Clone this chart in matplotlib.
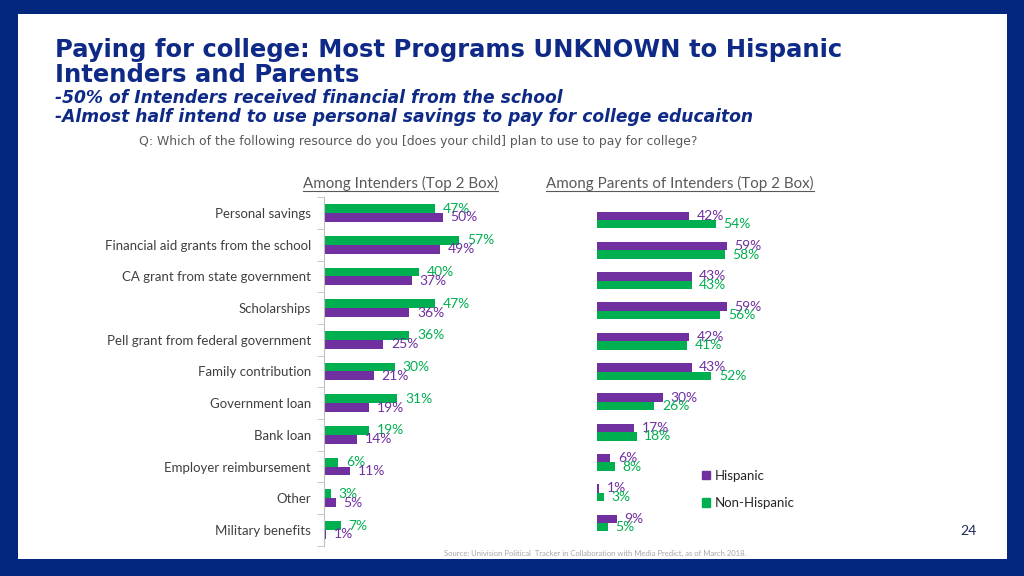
import matplotlib.pyplot as plt
import numpy as np
from matplotlib.patches import Rectangle, Patch
from matplotlib.lines import Line2D

categories = ["Personal savings", "Financial aid grants from the school",
              "CA grant from state government", "Scholarships",
              "Pell grant from federal government", "Family contribution",
              "Government loan", "Bank loan", "Employer reimbursement",
              "Other", "Military benefits"]

# Among Intenders (Top 2 Box)
intenders_non_hisp = [47, 57, 40, 47, 36, 30, 31, 19, 6, 3, 7]
intenders_hisp = [50, 49, 37, 36, 25, 21, 19, 14, 11, 5, 1]

# Among Parents of Intenders (Top 2 Box)
parents_hisp = [42, 59, 43, 59, 42, 43, 30, 17, 6, 1, 9]
parents_non_hisp = [54, 58, 43, 56, 41, 52, 26, 18, 8, 3, 5]

series_names = ["Hispanic", "Non-Hispanic"]

PURPLE = "#7030A0"
GREEN = "#00B050"
NAVY = "#03267F"
TITLE = "#0E2A86"
GRAY = "#595959"

W, H = 1024, 576
fig = plt.figure(figsize=(W / 100, H / 100), dpi=100)
fig.patch.set_facecolor(NAVY)


def px(x0, y0, x1, y1):
    # pixel box (top-left origin) -> figure fraction rect
    return [x0 / W, 1 - y1 / H, (x1 - x0) / W, (y1 - y0) / H]


bg = fig.add_axes([0, 0, 1, 1])
bg.set_xlim(0, W)
bg.set_ylim(H, 0)
bg.axis("off")
bg.add_patch(Rectangle((18, 14), 989, 545, facecolor="white", edgecolor="none"))

n = len(categories)
y = np.arange(n)
bh = 0.28

# left panel
row = 31.7
ax1 = fig.add_axes(px(324, 213 - row / 2, 324 + 237, 213 + row * (n - 0.5)))
ax1.barh(y - bh / 2, intenders_non_hisp, height=bh, color=GREEN)
ax1.barh(y + bh / 2, intenders_hisp, height=bh, color=PURPLE)
for i in range(n):
    ax1.annotate(f"{intenders_non_hisp[i]}%", (intenders_non_hisp[i], y[i] - bh / 2),
                 xytext=(5.5, 0), textcoords="offset points", va="center",
                 color=GREEN, fontsize=10, family="Lato")
    ax1.annotate(f"{intenders_hisp[i]}%", (intenders_hisp[i], y[i] + bh / 2),
                 xytext=(5.5, 0), textcoords="offset points", va="center",
                 color=PURPLE, fontsize=10, family="Lato")
ax1.set_xlim(0, 100)
ax1.set_ylim(n - 0.5, -0.5)
ax1.set_yticks(y)
ax1.set_yticklabels(categories, fontsize=9.5, color="#404040", family="Lato")
ax1.set_yticks(np.arange(n + 1) - 0.5, minor=True)
ax1.tick_params(axis="y", which="major", length=0, pad=9.5)
ax1.tick_params(axis="y", which="minor", length=5, color="#BFBFBF")
ax1.set_xticks([])
for s in ["top", "right", "bottom"]:
    ax1.spines[s].set_visible(False)
ax1.spines["left"].set_color("#BFBFBF")
ax1.patch.set_alpha(0)

# right panel
row2 = 30.3
ax2 = fig.add_axes(px(597, 220 - row2 / 2, 597 + 220, 220 + row2 * (n - 0.5)))
ax2.barh(y - bh / 2, parents_hisp, height=bh, color=PURPLE)
ax2.barh(y + bh / 2, parents_non_hisp, height=bh, color=GREEN)
for i in range(n):
    ax2.annotate(f"{parents_hisp[i]}%", (parents_hisp[i], y[i] - bh / 2),
                 xytext=(5.5, 0), textcoords="offset points", va="center",
                 color=PURPLE, fontsize=10, family="Lato")
    ax2.annotate(f"{parents_non_hisp[i]}%", (parents_non_hisp[i], y[i] + bh / 2),
                 xytext=(5.5, 0), textcoords="offset points", va="center",
                 color=GREEN, fontsize=10, family="Lato")
ax2.set_xlim(0, 100)
ax2.set_ylim(n - 0.5, -0.5)
ax2.axis("off")

handles = [Patch(color=PURPLE), Patch(color=GREEN)]
ax2.legend(handles, series_names, loc="upper left", bbox_to_anchor=(690 / W, 1 - 458 / H),
           bbox_transform=fig.transFigure, frameon=False,
           handlelength=0.6, handleheight=0.6, handletextpad=0.35, labelspacing=1.15,
           prop={"family": "Lato", "size": 9.5}, labelcolor="#262626")

# titles
bg.text(55, 57, "Paying for college: Most Programs UNKNOWN to Hispanic",
        color=TITLE, fontsize=17.5, fontweight="bold", family="DejaVu Sans", va="baseline")
bg.text(55, 82, "Intenders and Parents",
        color=TITLE, fontsize=17.5, fontweight="bold", family="DejaVu Sans", va="baseline")
bg.text(55, 103, "-50% of Intenders received financial from the school",
        color=TITLE, fontsize=12.3, fontweight="bold", style="italic",
        family="DejaVu Sans", va="baseline")
bg.text(55, 122, "-Almost half intend to use personal savings to pay for college educaiton",
        color=TITLE, fontsize=12.3, fontweight="bold", style="italic",
        family="DejaVu Sans", va="baseline")
bg.text(139, 141, "Q: Which of the following resource do you [does your child] plan to use to pay for college?",
        color=GRAY, fontsize=8.9, family="DejaVu Sans", va="center")

for x0, txt in [(303, "Among Intenders (Top 2 Box)"),
                (546, "Among Parents of Intenders (Top 2 Box)")]:
    t = bg.text(x0, 183, txt, color=GRAY, fontsize=10.9, family="Lato", va="center")
    fig.canvas.draw()
    bb = t.get_window_extent().transformed(bg.transData.inverted())
    bg.add_line(Line2D([bb.x0, bb.x1], [191, 191], color=GRAY, lw=0.8))

bg.text(968, 531, "24", color="#1F2A5A", fontsize=10, family="Lato", ha="center", va="center")
bg.text(595, 553, "Source: Univision Political  Tracker in Collaboration with Media Predict, as of March 2018.",
        color="#A6A6A6", fontsize=5.5, family="Lato", ha="center", va="center")

fig.savefig("out.png", dpi=100, facecolor=fig.get_facecolor())
